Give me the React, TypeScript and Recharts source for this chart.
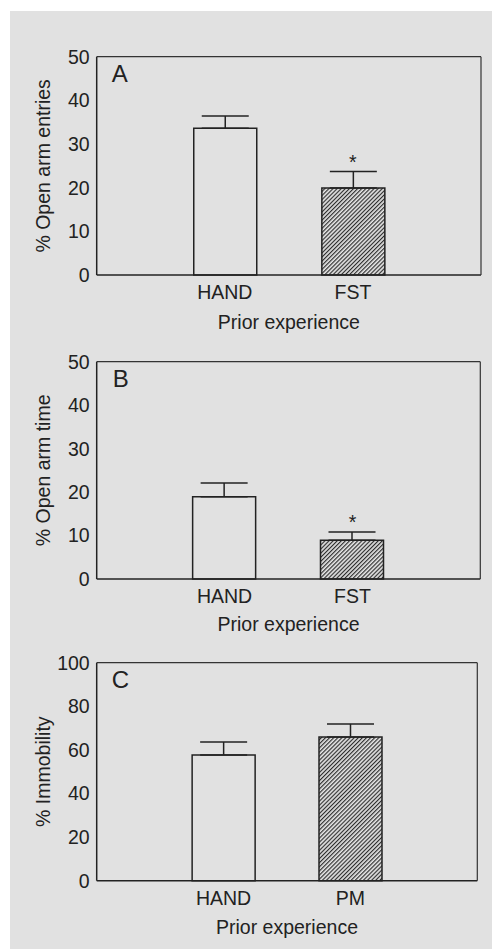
import React from 'react';
import { BarChart, Bar, XAxis, YAxis, ErrorBar, ReferenceDot, Cell } from 'recharts';

// panel A / B groups, panel C groups
const groupsAB = ['HAND', 'FST'];
const groupsC = ['HAND', 'PM'];

// % open arm entries (mean, SEM)
const entriesMean = [33.6, 19.9];
const entriesErr = [2.8, 3.8];
// % open arm time
const timeMean = [18.9, 8.9];
const timeErr = [3.2, 1.9];
// % immobility
const immobMean = [57.7, 65.9];
const immobErr = [5.9, 6.0];

const starsAB = ['', '*'];
const starsC = ['', ''];

const ticks50 = [0, 10, 20, 30, 40, 50];
const ticks100 = [0, 20, 40, 60, 80, 100];
const sideTicksA = [8.33, 16.67, 25, 33.33, 41.67];
const sideTicksB = [10, 20, 30, 40];
const minorTicksC = [6.67, 13.33, 20, 26.67, 33.33, 40, 46.67, 53.33, 60, 66.67, 73.33, 80, 86.67, 93.33];

const INK = '#222';
const BG = '#e1e1e1';
const FS = 19.5;
const barFills = [BG, 'url(#hatch)'];

type PanelProps = {
  top: number;
  height: number;
  plotTop: number;
  plotBottom: number;
  plotRight: number;
  groups: string[];
  means: number[];
  errs: number[];
  stars: string[];
  max: number;
  ticks: number[];
  sideTicks?: number[];
  minorTicks?: number[];
  yLabel: string;
  labelOffset: number;
};

const Panel: React.FC<PanelProps> = (p) => {
  const rows = p.groups.map((g, i) => ({ group: g, mean: p.means[i], err: [0, p.errs[i]] }));
  const plotW = p.plotRight - 96.7;
  const pad = plotW / 6;
  return (
    <div style={{ position: 'absolute', left: 0, top: p.top }}>
      <BarChart
        width={492}
        height={p.height}
        data={rows}
        margin={{ top: p.plotTop - p.top, right: 492 - p.plotRight, bottom: p.top + p.height - p.plotBottom - 30, left: 36.7 }}
      >
        <XAxis
          dataKey="group"
          interval={0}
          tickLine={false}
          tickSize={0}
          tickMargin={10.5}
          padding={{ left: pad, right: pad }}
          axisLine={{ stroke: INK, strokeWidth: 1.5 }}
          tick={{ fill: INK, fontSize: FS }}
          label={{ value: 'Prior experience', position: 'bottom', offset: p.labelOffset, fill: INK, fontSize: FS }}
        />
        <XAxis
          xAxisId="top"
          dataKey="group"
          orientation="top"
          mirror
          tick={false}
          tickLine={false}
          axisLine={{ stroke: '#333', strokeWidth: 1.2 }}
        />
        <YAxis
          domain={[0, p.max]}
          ticks={p.ticks}
          width={60}
          tickLine={false}
          tickSize={0}
          tickMargin={7}
          axisLine={{ stroke: INK, strokeWidth: 1.5 }}
          tick={{ fill: INK, fontSize: FS }}
          label={{ value: p.yLabel, angle: -90, position: 'insideLeft', offset: 6, textAnchor: 'middle', fill: INK, fontSize: FS }}
        />
        <YAxis
          yAxisId="side"
          orientation="right"
          mirror
          domain={[0, p.max]}
          ticks={p.sideTicks ?? p.ticks}
          tick={false}
          axisLine={{ stroke: '#333', strokeWidth: 1.2 }}
          tickSize={3}
          tickLine={p.sideTicks ? { stroke: INK, strokeWidth: 1.2 } : false}
        />
        {p.minorTicks && (
          <YAxis
            yAxisId="minor"
            orientation="left"
            mirror
            domain={[0, p.max]}
            ticks={p.minorTicks}
            tick={false}
            axisLine={false}
            tickSize={3}
            tickLine={{ stroke: INK, strokeWidth: 1.2 }}
          />
        )}
        <Bar dataKey="mean" barSize={63} stroke={INK} strokeWidth={1.5} isAnimationActive={false}>
          {rows.map((r, i) => (
            <Cell key={r.group} fill={barFills[i]} />
          ))}
          <ErrorBar dataKey="err" width={23.5} stroke={INK} strokeWidth={1.5} direction="y" isAnimationActive={false} />
        </Bar>
        {p.stars.map((s, i) =>
          s ? (
            <ReferenceDot
              key={'s' + i}
              x={p.groups[i]}
              y={p.means[i] + p.errs[i]}
              r={0}
              fill="none"
              stroke="none"
              label={{ value: s, position: 'top', offset: 3, fill: INK, fontSize: FS }}
            />
          ) : null
        )}
      </BarChart>
    </div>
  );
};

export default function App() {
  return (
    <div style={{ position: 'absolute', left: 0, top: 0, width: 492, height: 949, fontFamily: '"Liberation Sans", Arial, sans-serif' }}>
      <div style={{ position: 'absolute', left: 10, top: 11, width: 482, height: 938, background: BG }} />
      <svg width={0} height={0} style={{ position: 'absolute' }}>
        <defs>
          <pattern id="hatch" patternUnits="userSpaceOnUse" width={2.9} height={10} patternTransform="rotate(45)">
            <rect width={2.9} height={10} fill="#e4e4e4" />
            <line x1={0.6} y1={0} x2={0.6} y2={10} stroke="#222" strokeWidth={1.1} />
          </pattern>
        </defs>
      </svg>
      <Panel
        top={0}
        height={340}
        plotTop={56.7}
        plotBottom={275}
        plotRight={481}
        groups={groupsAB}
        means={entriesMean}
        errs={entriesErr}
        stars={starsAB}
        max={50}
        ticks={ticks50}
        sideTicks={sideTicksA}
        yLabel="% Open arm entries"
        labelOffset={10.5}
      />
      <Panel
        top={340}
        height={300}
        plotTop={361.7}
        plotBottom={579}
        plotRight={480.3}
        groups={groupsAB}
        means={timeMean}
        errs={timeErr}
        stars={starsAB}
        max={50}
        ticks={ticks50}
        sideTicks={sideTicksB}
        yLabel="% Open arm time"
        labelOffset={7.7}
      />
      <Panel
        top={640}
        height={309}
        plotTop={662.7}
        plotBottom={880.7}
        plotRight={477.3}
        groups={groupsC}
        means={immobMean}
        errs={immobErr}
        stars={starsC}
        max={100}
        ticks={ticks100}
        minorTicks={minorTicksC}
        yLabel="% Immobility"
        labelOffset={9.5}
      />
      <svg width={492} height={949} style={{ position: 'absolute', left: 0, top: 0, pointerEvents: 'none' }}>
        <text x={111.7} y={81.7} fontSize={24} fill={INK}>A</text>
        <text x={112.7} y={386.7} fontSize={24} fill={INK}>B</text>
        <text x={111.7} y={688.3} fontSize={24} fill={INK}>C</text>
      </svg>
    </div>
  );
}
